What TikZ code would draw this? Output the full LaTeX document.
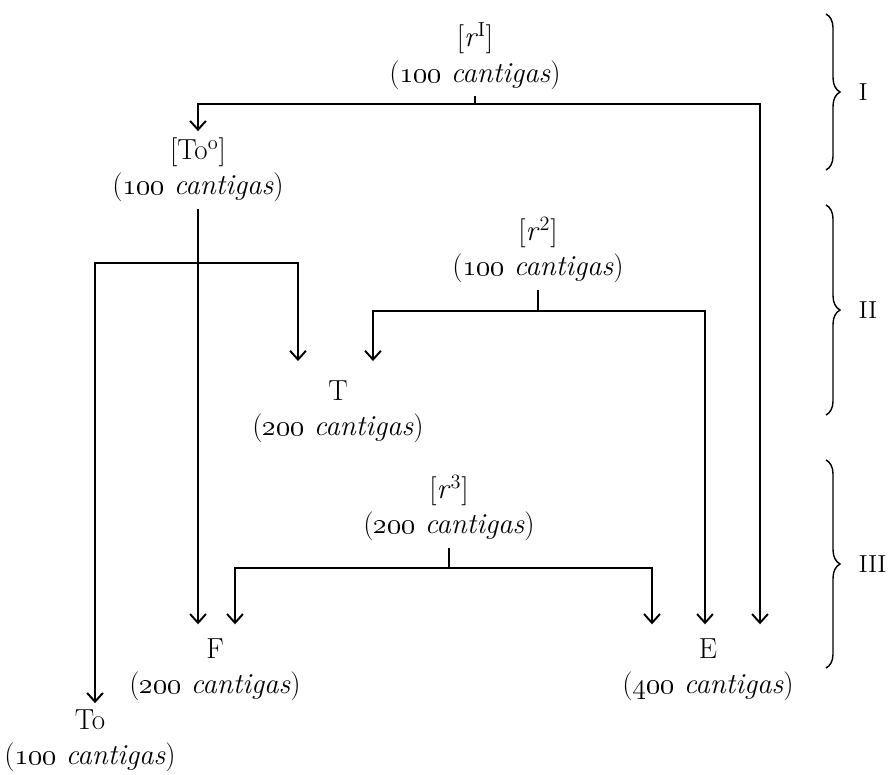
\RequirePackage{fix-cm}
\documentclass[tikz,border=0pt]{standalone}
\usetikzlibrary{arrows.meta,decorations.pathreplacing}
\newcommand{\cantigas}[1]{(\oldstylenums{#1} \textit{cantigas})}

\begin{document}
\begin{tikzpicture}[x=0.02cm,y=-0.02cm,line width=1.1pt,
  ms/.style={align=center,font=\fontsize{16.5}{20}\selectfont},
  barbs/.style={{Straight Barb[length=5pt,width=9pt]}-{Straight Barb[length=5pt,width=9pt]}},
  arr/.style={-{Straight Barb[length=5pt,width=9pt]}},
  grp/.style={decorate,decoration={brace,amplitude=8pt},line width=.8pt},
  grplbl/.style={midway,right=15pt,font=\fontsize{14}{16}\selectfont}]
\useasboundingbox (0,0) rectangle (892,774);

\node[ms] (r1) at (475,56) {[\textit{r}\textsuperscript{I}]\\\cantigas{100}};
\node[ms] (To0) at (198,170) {[To\textsuperscript{o}]\\\cantigas{100}};
\node[ms] (r2) at (538,250) {[\textit{r}\textsuperscript{2}]\\\cantigas{100}};
\node[ms,outer ysep=8pt] (T) at (338,412) {T\\\cantigas{200}};
\node[ms] (r3) at (449,508) {[\textit{r}\textsuperscript{3}]\\\cantigas{200}};
\node[ms,outer ysep=5pt] (F) at (215,670) {F\\\cantigas{200}};
\node[ms,outer ysep=5pt] (E) at (708,670) {E\\\cantigas{400}};
\node[ms] (To) at (90,741) {To\\\cantigas{100}};

\coordinate (r1L) at (198,104);
\coordinate (r1R) at (760,104);
\coordinate (tL) at (95,263);
\coordinate (tR) at (298,263);
\coordinate (r2L) at (373,311);
\coordinate (r2R) at (705,311);
\coordinate (r3L) at (235,568);
\coordinate (r3R) at (652,568);

\draw (r1.south) -- (r1.south |- r1L);
\draw[barbs] (To0.north -| r1L) -- (r1L) -- (r1R) -- (r1R |- E.north);
\draw[arr] (To0.south) -- (To0.south |- F.north);
\draw[barbs] (tL |- To.north) -- (tL) -- (tR) -- (tR |- T.north);
\draw (r2.south) -- (r2.south |- r2L);
\draw[barbs] (r2L |- T.north) -- (r2L) -- (r2R) -- (r2R |- E.north);
\draw (r3.south) -- (r3.south |- r3L);
\draw[barbs] (r3L |- F.north) -- (r3L) -- (r3R) -- (r3R |- F.north);

\draw[grp] (826,14) -- (826,170) node[grplbl] (gI) {I};
\draw[grp] (826,205) -- (826,415) node[grplbl] (gII) {II};
\draw[grp] (826,460) -- (826,668) node[grplbl] (gIII) {III};
\end{tikzpicture}
\end{document}
